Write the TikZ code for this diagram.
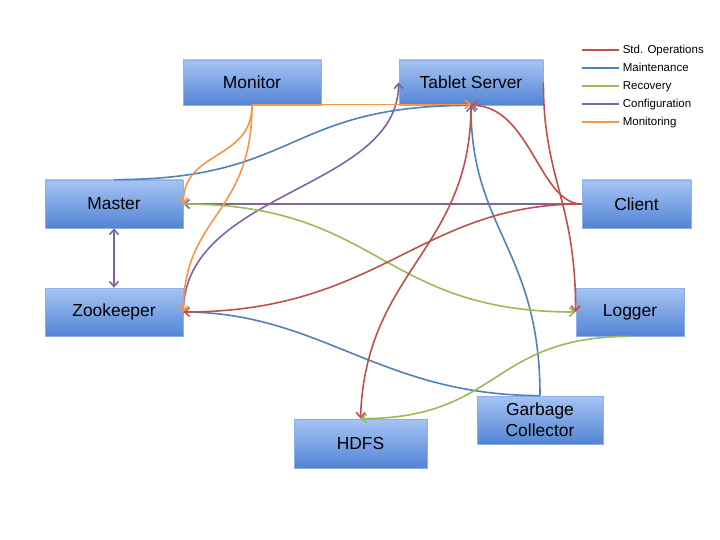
\documentclass[tikz,border=0pt]{standalone}
\usepackage{fontspec}
\setmainfont{Liberation Sans}
\usetikzlibrary{arrows.meta}
\definecolor{stdred}{RGB}{192,80,77}
\definecolor{maintblue}{RGB}{79,129,189}
\definecolor{recovgreen}{RGB}{155,187,89}
\definecolor{configpurple}{RGB}{128,100,162}
\definecolor{monorange}{RGB}{247,150,70}
\definecolor{boxtop}{RGB}{166,196,244}
\definecolor{boxbottom}{RGB}{82,132,212}
\definecolor{boxedge}{RGB}{140,176,230}
\begin{document}
\begin{tikzpicture}[x=1pt, y=-1pt, line width=1.6pt,
  >={Straight Barb[length=5pt, width=9pt]},
  box/.style={draw=boxedge, line width=0.8pt, top color=boxtop, bottom color=boxbottom,
    font=\fontsize{17.4}{21}\selectfont, align=center, inner sep=0pt},
  legend/.style={anchor=base west, inner sep=0pt, font=\fontsize{11.5}{13}\selectfont},
  stdop/.style={draw=stdred}, maint/.style={draw=maintblue},
  recov/.style={draw=recovgreen}, config/.style={draw=configpurple},
  monit/.style={draw=monorange}]
  \useasboundingbox (0,0) rectangle (720,540);
  % components
  \node[box, minimum width=138, minimum height=45] (monitor) at (252,82.5) {Monitor};
  \node[box, minimum width=144, minimum height=45] (tserver) at (471,82.5) {Tablet Server};
  \node[box, minimum width=138, minimum height=48] (master) at (114,204) {Master};
  \node[box, minimum width=109, minimum height=48] (client) at (636.5,204) {Client};
  \node[box, minimum width=138, minimum height=48] (zookeeper) at (114,312) {Zookeeper};
  \node[box, minimum width=108, minimum height=48] (logger) at (630,312) {Logger};
  \node[box, minimum width=133, minimum height=49] (hdfs) at (360.5,443.5) {HDFS};
  \node[box, minimum width=126, minimum height=48] (gc) at (540,420) {Garbage\\Collector};
  % maintenance
  \draw[maint] (master.north) .. controls (300,180) and (285,105) .. (tserver.south);
  \draw[maint, ->] (gc.north) .. controls +(0,-146) and +(0,125) .. (tserver.south);
  \draw[maint] (zookeeper.east) .. controls +(137,0) and +(-160,0) .. (gc.north);
  % configuration
  \draw[config, <->] (master.south) -- (zookeeper.north);
  \draw[config, ->] (client.west) -- (master.east);
  \draw[config, ->] (zookeeper.east) .. controls +(0,-122) and +(0,108) .. (tserver.west);
  % recovery
  \draw[recov, ->] (master.east) .. controls +(197,0) and +(-196,0) .. (logger.west);
  \draw[recov, ->] (logger.south) .. controls +(-140,0) and +(140,0) .. (hdfs.north);
  % std. operations
  \draw[stdop, ->] (client.west) .. controls +(-162,0) and +(197,0) .. (zookeeper.east);
  \draw[stdop, ->] (tserver.south) .. controls +(0,145) and +(5,-149) .. (hdfs.north);
  \draw[stdop, ->] (client.west) .. controls +(-42,0) and +(59,0) .. (tserver.south);
  \draw[stdop, ->] (tserver.east) .. controls +(0,98) and +(0,-112) .. (logger.west);
  % monitoring
  \draw[monit, ->] ([yshift=1pt]monitor.south) -- ([yshift=1pt]tserver.south);
  \draw[monit, ->] (monitor.south) .. controls +(0,55) and +(0,-54) .. (master.east);
  \draw[monit, ->] (monitor.south) .. controls +(0,110) and +(0,-97) .. (zookeeper.east);
  % legend
  \foreach \col/\txt [count=\i] in {stdred/Std. Operations, maintblue/Maintenance,
      recovgreen/Recovery, configpurple/Configuration, monorange/Monitoring} {
    \node[legend] (leg\i) at (622,36+18*\i) {\txt};
    \draw[\col, line width=1.4pt] (582,32+18*\i) -- ([xshift=-3pt]leg\i.base west |- 0,32+18*\i);
  }
\end{tikzpicture}
\end{document}
